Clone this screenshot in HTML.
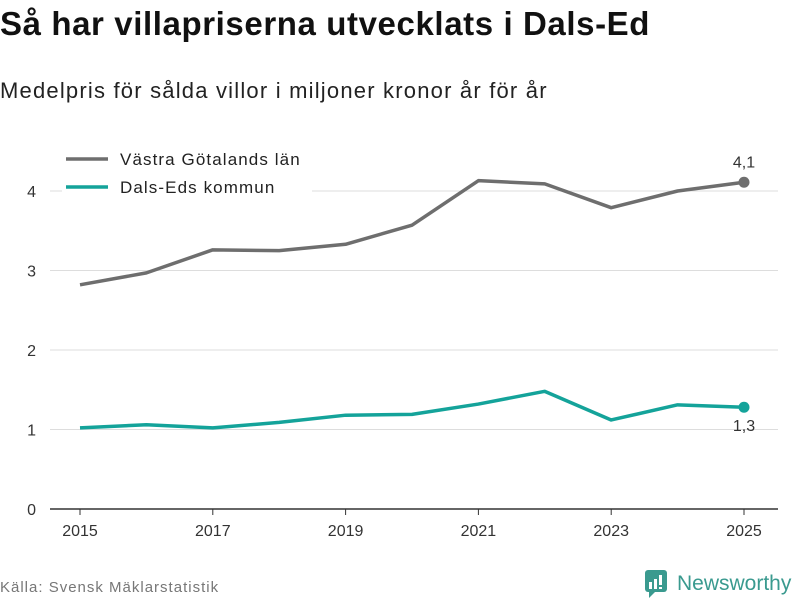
<!DOCTYPE html>
<html><head><meta charset="utf-8"><style>
body{margin:0;width:800px;height:600px;background:#fff;font-family:"Liberation Sans",sans-serif;overflow:hidden;position:relative}
h1{position:absolute;left:0;top:5px;margin:0;font-size:33px;letter-spacing:0.6px;font-weight:bold;color:#111}
.sub{position:absolute;left:0;top:78px;font-size:22px;letter-spacing:1.2px;color:#222}
.src{position:absolute;left:0;top:579px;font-size:15px;letter-spacing:1px;color:#777}
</style></head><body>
<h1>Så har villapriserna utvecklats i Dals-Ed</h1>
<div class="sub">Medelpris för sålda villor i miljoner kronor år för år</div>
<svg id="c" width="800" height="600" style="position:absolute;left:0;top:0"></svg>
<div class="src">Källa: Svensk Mäklarstatistik</div>
<div style="position:absolute;left:645px;top:570px;display:flex;align-items:center">
<svg width="24" height="28"><rect x="0" y="0" width="22" height="22" rx="3" fill="#3a9a8f"/><polygon points="4,22 10,22 4,28" fill="#3a9a8f"/><rect x="4" y="12" width="3" height="7" fill="#fff"/><rect x="9" y="9" width="3" height="10" fill="#fff"/><rect x="14" y="5" width="3" height="10" fill="#fff"/><rect x="14" y="17" width="3" height="2" fill="#fff"/></svg>
<span style="font-size:21px;color:#3a9a8f;margin-left:8px;font-weight:500">Newsworthy</span></div>
<script>
const years=[2015,2016,2017,2018,2019,2020,2021,2022,2023,2024,2025];
const vastra=[2.82,2.97,3.26,3.25,3.33,3.57,4.13,4.09,3.79,4.0,4.11];
const dals=[1.02,1.06,1.02,1.09,1.18,1.19,1.32,1.48,1.12,1.31,1.28];
const yTicks=[0,1,2,3,4];
const xTicks=[2015,2017,2019,2021,2023,2025];
const svg=document.getElementById('c');const NS='http://www.w3.org/2000/svg';
const X=v=>80+(v-2015)*66.4, Y=v=>509-v*79.5;
function mk(t,a,p){const e=document.createElementNS(NS,t);for(const k in a)e.setAttribute(k,a[k]);(p||svg).appendChild(e);return e;}
yTicks.forEach(t=>{
 const l=mk('line',{x1:50,x2:778,y1:Y(t),y2:Y(t),stroke:t==0?'#333':'#ddd','stroke-width':t==0?1.5:1});
 
 const tx=mk('text',{x:36,y:Y(t)+6,'font-size':16,fill:'#333','text-anchor':'end'});tx.textContent=t;
 
});
xTicks.forEach(t=>{
 const l=mk('line',{x1:X(t),x2:X(t),y1:509,y2:515,stroke:'#333'});
 
 const tx=mk('text',{x:X(t),y:536,'font-size':16,fill:'#333','text-anchor':'middle'});tx.textContent=t;
 
});
function series(vals,col,name,dy){
 const p=mk('polyline',{points:vals.map((v,i)=>X(years[i])+','+Y(v)).join(' '),fill:'none',stroke:col,'stroke-width':3.5,'stroke-linejoin':'round'});
 
 const n=vals.length-1;
 const c=mk('circle',{cx:X(years[n]),cy:Y(vals[n]),r:5.5,fill:col});
 
 const t=mk('text',{x:X(years[n]),y:Y(vals[n])+dy,'font-size':16,fill:'#333','text-anchor':'middle'});t.textContent=vals[n].toFixed(1).replace('.',',');
 
}
series(vastra,'#6e6e6e','vastra-gotaland-line',-15);
series(dals,'#14a39a','dals-ed-line',24);
[['Västra Götalands län','#6e6e6e',159],['Dals-Eds kommun','#14a39a',187]].forEach(([s,c,y])=>{
 const g=mk('g',{});
 mk('rect',{x:62,y:y-10,width:250,height:22,fill:'#fff'},g);
 mk('line',{x1:66,x2:108,y1:y,y2:y,stroke:c,'stroke-width':3.5},g);
 const t=mk('text',{x:120,y:y+6,'font-size':17,'letter-spacing':1.1,fill:'#222'},g);t.textContent=s;
});
</script>
</body></html>
